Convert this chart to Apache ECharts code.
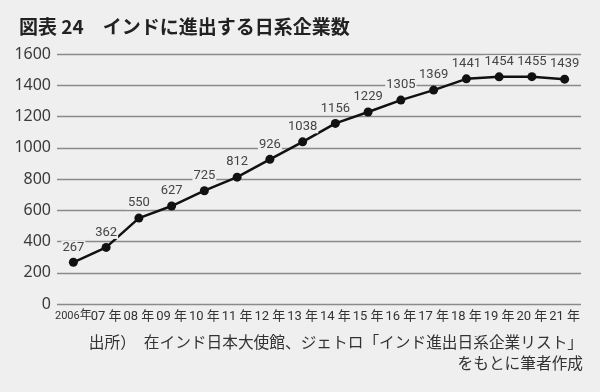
<!DOCTYPE html>
<html><head><meta charset="utf-8">
<script src="https://cdn.jsdelivr.net/npm/echarts@6/dist/echarts.min.js"></script>
<style>html,body{margin:0;padding:0;background:#f0efef;}#c{width:600px;height:392px;}</style>
</head><body><div id="c"></div>
<script>
var categories = ['2006年','07 年','08 年','09 年','10 年','11 年','12 年','13 年','14 年','15 年','16 年','17 年','18 年','19 年','20 年','21 年'];
var values = [267, 362, 550, 627, 725, 812, 926, 1038, 1156, 1229, 1305, 1369, 1441, 1454, 1455, 1439];
var yTicks = [0, 200, 400, 600, 800, 1000, 1200, 1400, 1600];
var titleText = '図表 24　インドに進出する日系企業数';
var sourceLine1 = '出所）　在インド日本大使館、ジェトロ「インド進出日系企業リスト」';
var sourceLine2 = 'をもとに筆者作成';

var BG = '#f0efef';
var narrow = "Roboto, 'Noto Sans CJK JP', sans-serif";
var cjk = "'Noto Sans CJK JP', sans-serif";
var chart = echarts.init(document.getElementById('c'), null, {renderer: 'canvas'});
chart.setOption({
  backgroundColor: BG,
  animation: false,
  title: {
    text: titleText, left: 14, top: 12,
    textStyle: {fontSize: 19, fontWeight: 'bold', color: '#222', fontFamily: cjk}
  },
  grid: {left: 57, right: 19, top: 54, bottom: 88},
  xAxis: {
    type: 'category', data: categories, boundaryGap: true,
    axisLine: {show: false}, axisTick: {show: false},
    axisLabel: {
      interval: 0, margin: 6, color: '#333', fontSize: 13, fontFamily: narrow,
      formatter: function (v, i) {
        if (i === 0) return '{s|2006}{k|年}';
        return v;
      },
      rich: {
        s: {fontSize: 11, fontFamily: narrow, color: '#333'},
        k: {fontSize: 12, fontFamily: narrow, color: '#333'}
      }
    }
  },
  yAxis: {
    type: 'value', min: yTicks[0], max: yTicks[yTicks.length - 1], interval: 200,
    axisLine: {show: false}, axisTick: {show: false},
    axisLabel: {margin: 6, color: '#3a3a3a', fontSize: 16, fontFamily: "'Noto Sans', sans-serif",
      formatter: function (v) { return String(v); }},
    splitLine: {lineStyle: {color: '#8a8a8a', width: 1.3}}
  },
  series: [{
    type: 'line', data: values,
    symbol: 'circle', symbolSize: 9,
    lineStyle: {color: '#111', width: 2.5},
    itemStyle: {color: '#111'},
    label: {
      show: true, position: 'top', distance: 4,
      color: '#444', fontSize: 13, fontFamily: narrow,
      backgroundColor: BG, padding: [0, 1]
    },
    z: 3
  }],
  graphic: [
    {type: 'text', right: 17, top: 334, style: {text: sourceLine1, fill: '#333', fontSize: 15.7, fontFamily: cjk, textAlign: 'right'}},
    {type: 'text', right: 17, top: 355, style: {text: sourceLine2, fill: '#333', fontSize: 15.7, fontFamily: cjk, textAlign: 'right'}}
  ]
});
</script></body></html>
